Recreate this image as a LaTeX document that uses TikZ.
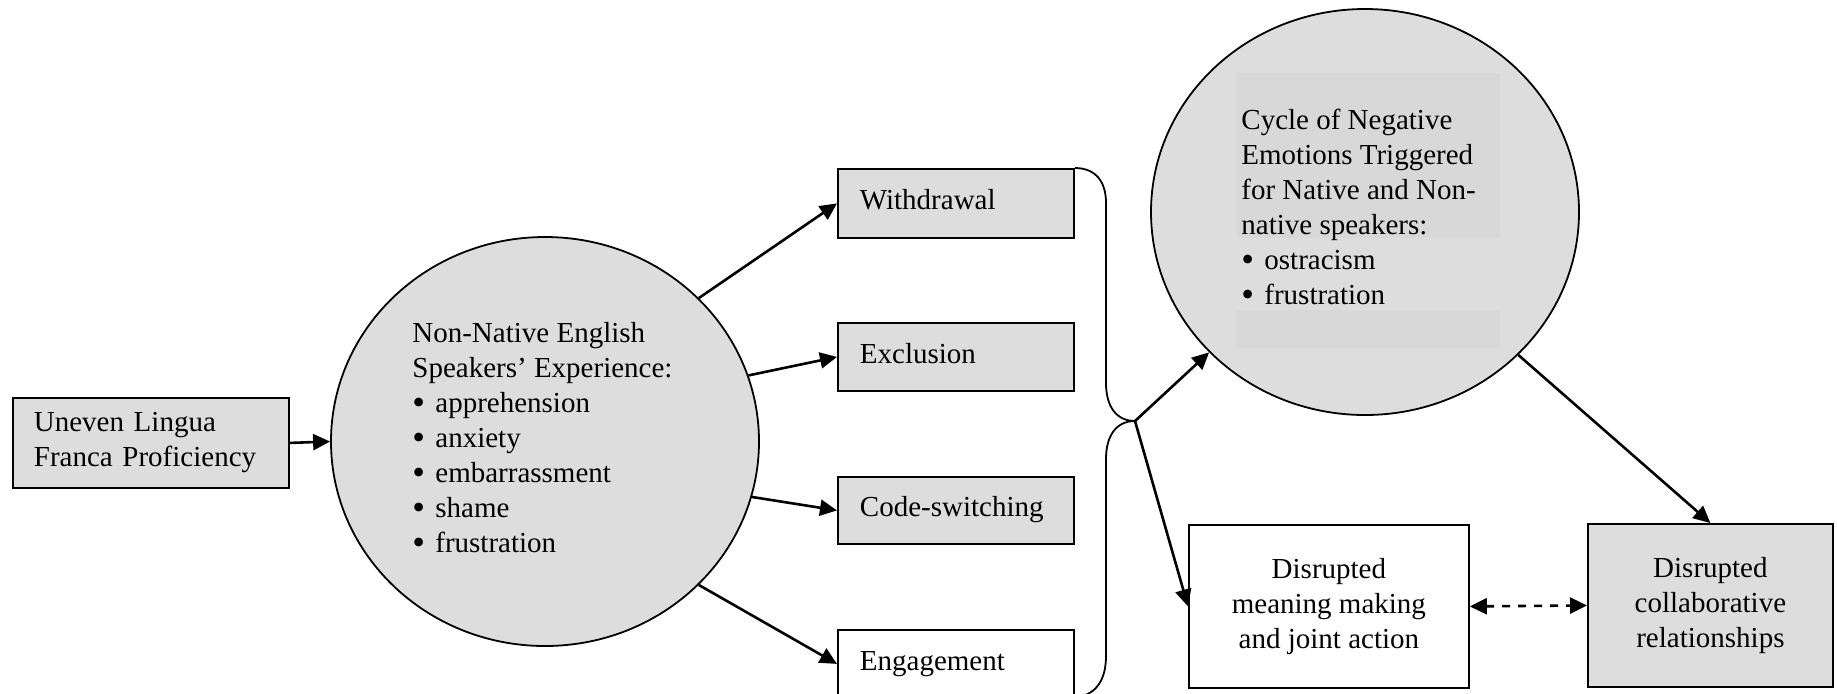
\documentclass[tikz,border=0pt]{standalone}
\usepackage{fontspec}
\setmainfont{Liberation Serif}
\usetikzlibrary{shapes.geometric,arrows.meta}
\definecolor{boxgray}{RGB}{221,221,221}
\definecolor{rectgray}{RGB}{216,216,216}
\newcommand{\blt}{\makebox[11.5pt][l]{\smash{\raisebox{-0.8pt}{\scalebox{1.25}{\textbullet}}}}}
\begin{document}
\begin{tikzpicture}[x=0.5pt,y=-0.5pt,
  txt/.style={font=\fontsize{14.5}{17.5}\selectfont},
  boxbase/.style={draw=black, line width=0.9pt, rectangle, anchor=north west, txt},
  onebox/.style={boxbase, fill=boxgray, inner ysep=0pt, inner xsep=11pt, align=left,
     text width=96pt, minimum width=118pt, minimum height=34pt, text height=9.5pt, text depth=3pt},
  endbox/.style={boxbase, inner sep=2pt, align=center, minimum height=81.5pt},
  bubble/.style={ellipse, draw=black, line width=0.9pt, fill=boxgray, inner sep=0pt},
  bubbletext/.style={txt, anchor=north west, inner sep=0pt, align=left},
  arr/.style={line width=1.3pt, -{Triangle[length=8.5pt,width=8pt]}},
  dblarr/.style={line width=1.3pt, dash pattern=on 4pt off 4pt, {Triangle[length=8.5pt,width=8pt]}-{Triangle[length=8.5pt,width=8pt]}},
  bracepath/.style={line width=0.9pt}
]
\useasboundingbox (0,0) rectangle (1837,693);
\clip (0,0) rectangle (1837,693);

% bubbles
\node[bubble, minimum width=214pt, minimum height=204.5pt] (lc) at (545,441.5) {};
\node[bubble, minimum width=214pt, minimum height=203pt] (rc) at (1365,212) {};
\fill[rectgray] (1237,73) rectangle (1500,238);
\fill[rectgray] (1237,310) rectangle (1500,348);

\node[bubbletext] (lct) at (412,322) {Non-Native English\\Speakers’ Experience:\\\blt apprehension\\\blt anxiety\\\blt embarrassment\\\blt shame\\\blt frustration};
\node[bubbletext] (rct) at (1241,109) {Cycle of Negative\\Emotions Triggered\\for Native and Non-\\native speakers:\\\blt ostracism\\\blt frustration};

% boxes
\node[boxbase, fill=boxgray, inner xsep=10.5pt, inner ysep=0pt, align=left, text width=117pt,
      minimum width=138pt, minimum height=45pt] (un) at (12,397) {Uneven Lingua\\Franca Proficiency};
\node[onebox, minimum height=34.5pt] (wd) at (837,168) {Withdrawal};
\node[onebox] (ex) at (837,322) {Exclusion};
\node[onebox, minimum height=33.5pt] (cs) at (837,476) {Code-switching};
\node[onebox, fill=white] (en) at (837,629) {Engagement};
\node[endbox, fill=white, minimum width=140pt] (mb) at (1188,524) {Disrupted\\meaning making\\and joint action};
\node[endbox, fill=boxgray, minimum width=122.5pt] (cb) at (1587,523) {Disrupted\\collaborative\\relationships};

% brace
\coordinate (tip) at (1135,421);
\draw[bracepath] (wd.north east) .. controls (1096,168) and (1106,182) .. (1106,203)
  -- (1106,383) .. controls (1106,406) and (1116,421) .. (tip)
  .. controls (1116,421) and (1106,436) .. (1106,459)
  -- (1106,656) .. controls (1106,680) and (1096,694) .. (1078,697);

% arrows
\draw[arr] (un.east) -- (lc.west);
\draw[arr] (lc.43.7) -- (wd.west);
\draw[arr] (lc.18.6) -- (ex.west);
\draw[arr] (lc.-15.3) -- (cs.west);
\draw[arr] (lc.-43.4) -- (en.west);
\draw[arr] (tip) -- (rc.222.2);
\draw[arr] (tip) -- (mb.west);
\draw[arr] (rc.-43.8) -- (cb.north);
\draw[dblarr] (mb.east) -- (cb.west);
\end{tikzpicture}
\end{document}
